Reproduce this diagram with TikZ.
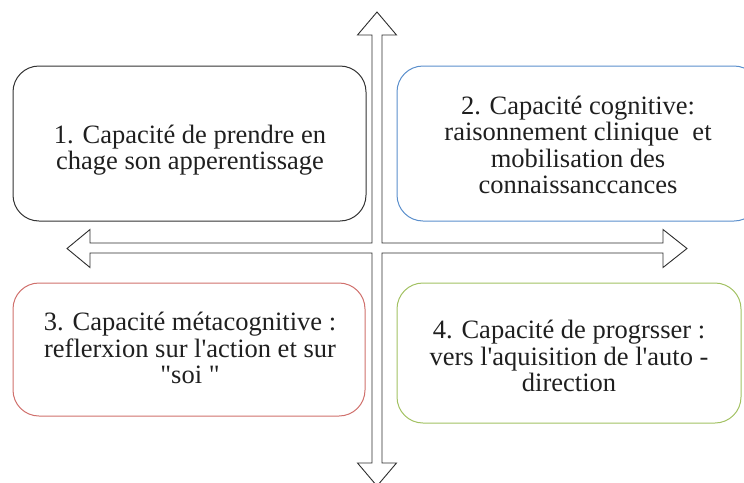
\documentclass[tikz,border=0pt]{standalone}
\usepackage{fontspec}
\setmainfont{Liberation Serif}[Ligatures=TeXOff]
\definecolor{boxblack}{HTML}{333333}
\definecolor{boxblue}{HTML}{5B8FCC}
\definecolor{boxred}{HTML}{D0706C}
\definecolor{boxgreen}{HTML}{A2C162}
\definecolor{arrowgray}{HTML}{2E2E2E}
\tikzset{
  capbox/.style={draw, line width=1pt, rounded corners=26pt, inner sep=0pt},
  captext/.style={align=center, inner sep=0pt,
    font=\fontsize{26.5}{26.5}\selectfont, text=black!88},
  crossarrow/.style={draw=arrowgray, line width=0.9pt, line join=miter, fill=white}
}
\begin{document}
\begin{tikzpicture}[x=1pt,y=-1pt]
\useasboundingbox (0,0) rectangle (744,482);
\clip (0,0) rectangle (744,482);
% cross-shaped double arrow
\coordinate (c) at (377,248);
\draw[crossarrow]
  (377,12) -- (396.5,35) -- (382,35) -- (382,243) -- (663,243) -- (663,229.5)
  -- (687,248.5) -- (663,267.5) -- (663,253) -- (382,253) -- (382,463)
  -- (396.5,463) -- (377,486) -- (357.5,463) -- (372,463) -- (372,253)
  -- (90,253) -- (90,267.5) -- (67,248.5) -- (90,229.5) -- (90,243)
  -- (372,243) -- (372,35) -- (357.5,35) -- cycle;
% boxes
\node[capbox, draw=boxblack, minimum width=353pt, minimum height=155pt] (b1) at (189.5,143.5) {};
\node[capbox, draw=boxblue, minimum width=363pt, minimum height=155pt] (b2) at (578.5,143.5) {};
\node[capbox, draw=boxred, minimum width=352pt, minimum height=133pt] (b3) at (189,349.5) {};
\node[capbox, draw=boxgreen, minimum width=344pt, minimum height=140pt] (b4) at (569,353) {};
% texts
\node[captext] (t1) at (190,150) {1. Capacité de prendre en\\chage son apperentissage};
\node[captext] (t2) at (578,145) {2. Capacité cognitive:\\raisonnement clinique\ \ et\\mobilisation des\\connaissanccances};
\node[captext] (t3) at (190,348) {3. Capacité métacognitive :\\reflerxion sur l'action et sur\\"soi "};
\node[captext] (t4) at (569,356) {4. Capacité de progrsser :\\vers l'aquisition de l'auto -\\direction};
\end{tikzpicture}
\end{document}
